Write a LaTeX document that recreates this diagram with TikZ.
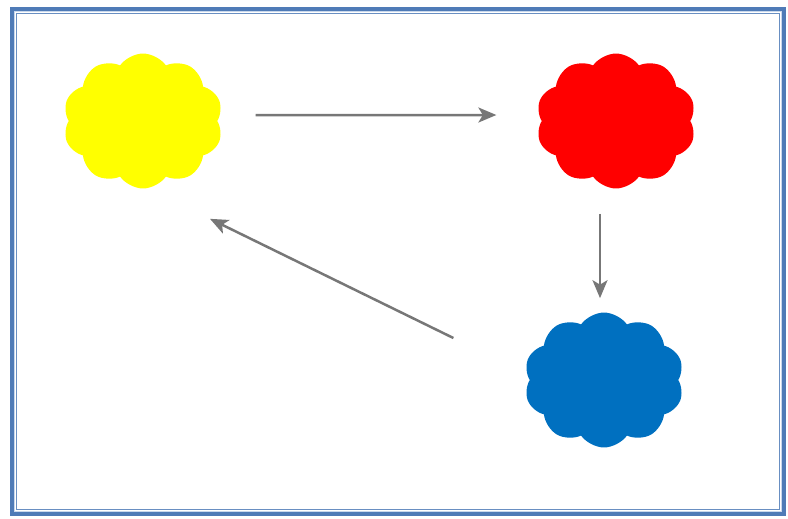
\documentclass[tikz,border=0pt]{standalone}
\usepackage{tikz}
\usetikzlibrary{positioning, shapes.symbols, arrows.meta, calc}
\definecolor{frameblue}{HTML}{4F7BB7}
\definecolor{framelight}{HTML}{C9D8EC}
\definecolor{cloudyellow}{HTML}{FFFF00}
\definecolor{cloudred}{HTML}{FF0000}
\definecolor{cloudblue}{HTML}{0070C0}
\definecolor{arrowgray}{HTML}{777777}

\begin{document}
\begin{tikzpicture}[
    x=0.02cm, y=-0.02cm,
    blob/.style={cloud, cloud puffs=10, cloud puff arc=110, aspect=1.2, inner sep=0pt, minimum width=3.2cm, minimum height=2.7cm},
    arrow/.style={-{Stealth[length=0.36cm, width=0.3cm, inset=0.09cm]}, draw=arrowgray, fill=arrowgray, line width=0.05cm},
]

\useasboundingbox (0,0) rectangle (788,518);

% Frame
\draw[frameblue, line width=0.08cm] (12,9) rectangle (784,514);
\draw[framelight, line width=0.03cm] (14.5,11.5) rectangle (781.5,511.5);
\draw[frameblue!85, line width=0.025cm] (16.5,13.5) rectangle (779.5,509.5);

% Clouds
\node[blob, fill=cloudyellow] (yellow) at (143,121) {};
\node[blob, fill=cloudred] (red) at (616,121) {};
\node[blob, fill=cloudblue] (blue) at (604,380) {};

% Connections
\draw[arrow, shorten <=0.76cm, shorten >=0.9cm] ([yshift=0.12cm]yellow.east) -- ([yshift=0.12cm]red.west);
\draw[arrow, shorten <=0.5cm, shorten >=0.28cm] ([xshift=-0.08cm]blue.north |- red.south) -- ([xshift=-0.08cm]blue.north);
\draw[arrow] ([shift={(-76,-42)}]blue.west) -- ([shift={(67,30)}]yellow.south);

\end{tikzpicture}
\end{document}
